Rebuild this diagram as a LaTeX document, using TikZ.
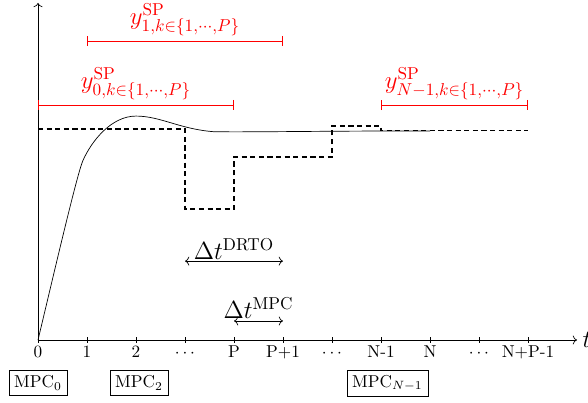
\documentclass[tikz,border=0pt]{standalone}
\usetikzlibrary{arrows.meta}
\begin{document}
\begin{tikzpicture}[
  axis/.style={->},
  ref/.style={thick, dash pattern=on 3pt off 2pt},
  sp/.style={red, {Bar[width=6pt]}-{Bar[width=6pt]}},
  splabel/.style={red, font=\Large, anchor=south, inner sep=1pt},
  dtarrow/.style={<->},
  dtlabel/.style={font=\Large, anchor=south, inner sep=1pt},
  ticklabel/.style={anchor=base},
  mpcbox/.style={draw, inner sep=3pt}
]
\useasboundingbox (-0.7755,-1.2653) rectangle (11.2245,6.9388);
% axes
\coordinate (O) at (0,0);
\coordinate (xend) at (11.0,0);
\coordinate (yend) at (0,6.88);
\draw[axis] (O) -- (xend);
\draw[axis] (O) -- (yend);
\node[anchor=west, font=\Large, inner sep=3pt] (tlab) at (xend) {$t$};
% ticks and labels
\foreach \x/\lab in {0/0,1/1,2/2,3/$\cdots$,4/P,5/P+1,6/$\cdots$,7/N-1,8/N,9/$\cdots$,10/N+P-1}{
  \draw (\x,-0.06) -- (\x,0.06);
  \node[ticklabel] (tick\x) at (\x,-0.35) {\lab};
}
% reference trajectory (dashed)
\coordinate (r0) at (0,4.31);
\coordinate (r1) at (3,4.31);
\coordinate (r2) at (3,2.673);
\coordinate (r3) at (4,2.673);
\coordinate (r4) at (4,3.735);
\coordinate (r5) at (6,3.735);
\coordinate (r6) at (6,4.367);
\coordinate (r7) at (7,4.367);
\coordinate (r8) at (7,4.27);
\coordinate (r9) at (10,4.27);
\draw[ref] (r0) -- (r1) -- (r2) -- (r3) -- (r4) -- (r5) -- (r6) -- (r7) -- (r8) -- (r9);
% response curve
\coordinate (c0) at (0,0);
\coordinate (c1) at (0.92,3.67);
\coordinate (c2) at (2,4.57);
\coordinate (c3) at (3.6,4.25);
\coordinate (c4) at (8,4.265);
\draw (c0) .. controls (0.3,1.25) and (0.8,3.41) .. (c1)
      .. controls (1.1,4.07) and (1.5,4.57) .. (c2)
      .. controls (2.5,4.57) and (2.9,4.3) .. (c3)
      .. controls (4.5,4.24) and (6,4.27) .. (c4);
% setpoint horizons
\coordinate (a0) at (0,4.796);
\coordinate (b0) at (4,4.796);
\draw[sp] (a0) -- (b0) node[splabel, midway, yshift=2pt] (l0) {$y^{\mathrm{SP}}_{0,k\in\{1,\cdots,P\}}$};
\coordinate (a1) at (1,6.102);
\coordinate (b1) at (5,6.102);
\draw[sp] (a1) -- (b1) node[splabel, midway, yshift=2pt] (l1) {$y^{\mathrm{SP}}_{1,k\in\{1,\cdots,P\}}$};
\coordinate (a2) at (7,4.796);
\coordinate (b2) at (10,4.796);
\draw[sp] (a2) -- (b2) node[splabel, midway, yshift=2pt] (l2) {$y^{\mathrm{SP}}_{N-1,k\in\{1,\cdots,P\}}$};
% time steps
\coordinate (d0) at (3,1.61);
\coordinate (d1) at (5,1.61);
\draw[dtarrow] (d0) -- (d1) node[dtlabel, midway] (dl) {$\Delta t^{\mathrm{DRTO}}$};
\coordinate (m0) at (4,0.388);
\coordinate (m1) at (5,0.388);
\draw[dtarrow] (m0) -- (m1) node[dtlabel, midway] (ml) {$\Delta t^{\mathrm{MPC}}$};
% MPC boxes
\node[mpcbox] (mpc0) at (0,-0.88) {MPC$_0$};
\node[mpcbox] (mpc2) at (2.06,-0.88) {MPC$_2$};
\node[mpcbox] (mpcN) at (7.13,-0.88) {MPC$_{N-1}$};
\end{tikzpicture}
\end{document}
